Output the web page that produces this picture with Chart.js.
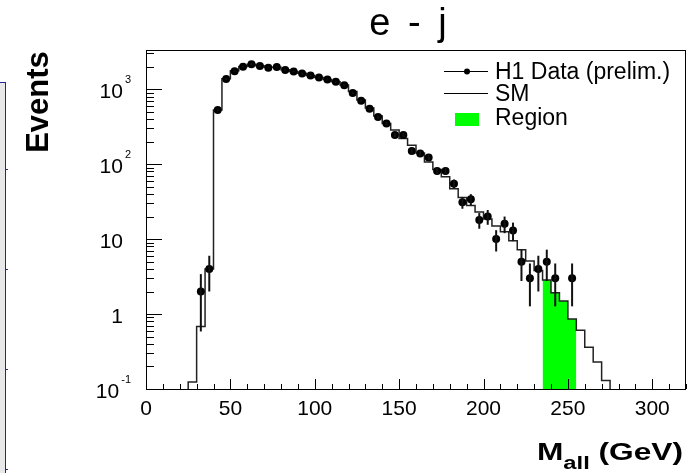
<html><head>
<meta charset="UTF-8">
<title>e - j : M_all</title>
<script src="https://cdn.jsdelivr.net/npm/chart.js"></script>
<style>
    body {
        margin: 0;
        background: #fff;
    }
    #wrap {
        position: relative;
        width: 698px;
        height: 473px;
        overflow: hidden;
    }
    /* edge of the neighbouring pad that is cut off on the left */
    #side {
        position: absolute;
        left: 0;
        top: 82px;
        width: 5px;
        height: 400px;
        background: #e8e8e8;
        border-top: 1px solid #24249c;
        border-right: 1px solid #24249c;
    }
    .stick {
        position: absolute;
        left: 5px;
        width: 3px;
        height: 1px;
        background: #24249c;
    }
    canvas {
        position: absolute;
        left: 0;
        top: 0;
    }
</style>
</head>
<body>
<div id="wrap">
    <div id="side"></div>
    <div class="stick" style="top:169px"></div>
    <div class="stick" style="top:269px"></div>
    <div class="stick" style="top:369px"></div>
    <div class="stick" style="top:469px"></div>
    <canvas id="mass" width="698" height="473"></canvas>
</div>

<script>
    // H1 data, bin centres (GeV) and number of events
    const dataMass = [32.5, 37.5, 42.5, 47.5, 52.5, 57.5, 62.5, 67.5, 72.5, 77.5,
        82.5, 87.5, 92.5, 97.5, 102.5, 107.5, 112.5, 117.5, 122.5, 127.5,
        132.5, 137.5, 142.5, 147.5, 152.5, 157.5, 162.5, 167.5, 172.5, 177.5,
        182.5, 187.5, 192.5, 197.5, 202.5, 207.5, 212.5, 217.5, 222.5, 227.5,
        232.5, 237.5, 242.5, 252.5];
    const dataEvents = [2, 4, 530, 1370, 1740, 1990, 2160, 2050, 1930, 1980,
        1800, 1720, 1620, 1520, 1430, 1345, 1260, 1130, 890, 700,
        550, 425, 350, 245, 245, 150, 139, 123, 81, 81,
        55, 31, 34, 18, 20, 10, 16, 13, 5, 3,
        4, 5, 3, 3];

    // SM expectation, histogram with 5 GeV bins (low edges)
    const binWidth = 5;
    const smLowEdges = [25, 30, 35, 40, 45, 50, 55, 60, 65, 70,
        75, 80, 85, 90, 95, 100, 105, 110, 115, 120,
        125, 130, 135, 140, 145, 150, 155, 160, 165, 170,
        175, 180, 185, 190, 195, 200, 205, 210, 215, 220,
        225, 230, 235, 240, 245, 250, 255, 260, 265, 270];
    const smEvents = [0.124, 0.68, 4.0, 530, 1380, 1760, 2010, 2150, 2060, 1960,
        1960, 1820, 1730, 1630, 1530, 1440, 1350, 1260, 1140, 930,
        720, 560, 440, 350, 285, 220, 179, 141, 107, 85,
        68, 47, 36, 28, 23, 18.5, 15, 12.5, 9.5, 7.2,
        5.1, 3.8, 2.84, 1.92, 1.49, 0.86, 0.61, 0.36, 0.23, 0.13];

    // search region
    const regionRange = [235, 255];

    // axes
    const X_MIN = 0, X_MAX = 320;
    const Y_MIN = 0.1, Y_MAX = 3340;
    const xTickLabels = ['0', '50', '100', '150', '200', '250', '300'];
    const xTickValues = [0, 50, 100, 150, 200, 250, 300];
    const yTickValues = [0.1, 1, 10, 100, 1000];
    const yTickBase = ['10', '1', '10', '10', '10'];
    const yTickExp = ['-1', '', '', '2', '3'];

    const FONT = "'Liberation Sans', Arial, Helvetica, sans-serif";

    // histogram as step points: value holds from the low edge to the next point
    const smSteps = [{x: smLowEdges[0], y: Y_MIN}];
    smLowEdges.forEach((e, i) => smSteps.push({x: e, y: smEvents[i]}));
    smSteps.push({x: smLowEdges[smLowEdges.length - 1] + binWidth, y: Y_MIN});

    const regionSteps = [];
    smLowEdges.forEach((e, i) => {
        if (e >= regionRange[0] && e < regionRange[1]) regionSteps.push({x: e, y: smEvents[i]});
    });
    regionSteps.push({x: regionRange[1], y: Y_MIN});

    const dataPoints = dataMass.map((m, i) => ({x: m, y: dataEvents[i]}));

    function line(ctx, x1, y1, x2, y2) {
        ctx.beginPath();
        ctx.moveTo(x1, y1);
        ctx.lineTo(x2, y2);
        ctx.stroke();
    }

    // sqrt(N) error bars on the data
    const errorBars = {
        id: 'errorBars',
        afterDatasetsDraw(chart) {
            const {ctx, scales: {x, y}} = chart;
            ctx.save();
            ctx.strokeStyle = '#111';
            ctx.lineWidth = 2;
            dataPoints.forEach(p => {
                const s = Math.sqrt(p.y);
                const px = x.getPixelForValue(p.x);
                line(ctx, px, y.getPixelForValue(p.y + s), px, y.getPixelForValue(Math.max(p.y - s, Y_MIN)));
            });
            ctx.restore();
        }
    };

    // ROOT style frame, inward ticks, labels, titles, legend
    const rootFrame = {
        id: 'rootFrame',
        afterDraw(chart) {
            const {ctx, chartArea: a, scales: {x, y}} = chart;
            ctx.save();
            ctx.strokeStyle = '#000';
            ctx.lineWidth = 1;
            ctx.strokeRect(a.left + 0.5, a.top + 0.5, a.right - a.left - 1, a.bottom - a.top);

            // y ticks
            for (let e = -1; e <= 3; e++) {
                for (let m = 1; m <= 9; m++) {
                    const v = m * Math.pow(10, e);
                    if (v > Y_MAX) continue;
                    const py = Math.round(y.getPixelForValue(v)) + 0.5;
                    line(ctx, a.left, py, a.left + (m === 1 ? 16 : 8), py);
                }
            }
            // x ticks
            for (let v = X_MIN; v <= X_MAX; v += 10) {
                const px = Math.round(x.getPixelForValue(v)) + 0.5;
                line(ctx, px, a.bottom, px, a.bottom - (v % 50 === 0 ? 10 : 5));
            }

            ctx.fillStyle = '#000';
            // x tick labels
            ctx.font = '21px ' + FONT;
            ctx.textAlign = 'center';
            ctx.textBaseline = 'alphabetic';
            xTickValues.forEach((v, i) => ctx.fillText(xTickLabels[i], x.getPixelForValue(v), a.bottom + 26));

            // y tick labels with exponents
            yTickValues.forEach((v, i) => {
                const py = y.getPixelForValue(v);
                ctx.font = '21px ' + FONT;
                const wb = ctx.measureText(yTickBase[i]).width;
                ctx.font = '11px ' + FONT;
                const we = yTickExp[i] ? ctx.measureText(yTickExp[i]).width + 2 : 0;
                const right = yTickExp[i] ? a.left - 15 : a.left - 23;
                ctx.textAlign = 'left';
                ctx.font = '21px ' + FONT;
                ctx.fillText(yTickBase[i], right - we - wb, py + 9);
                if (yTickExp[i]) {
                    ctx.font = '11px ' + FONT;
                    ctx.fillText(yTickExp[i], right - we + 2, py - 6);
                }
            });

            // title
            ctx.save();
            ctx.textAlign = 'center';
            ctx.font = '38px ' + FONT;
            ctx.wordSpacing = '7px';
            ctx.fillText('e - j', 408, 35);
            ctx.restore();

            // y axis title
            ctx.save();
            ctx.translate(48, 102);
            ctx.rotate(-Math.PI / 2);
            ctx.textAlign = 'center';
            ctx.font = 'bold 31px ' + FONT;
            ctx.fillText('Events', 0, 0);
            ctx.restore();

            // x axis title  M_all (GeV), stretched like the original
            ctx.save();
            ctx.textAlign = 'left';
            ctx.font = 'bold 24px ' + FONT;
            const wM = ctx.measureText('M').width;
            const wGeV = ctx.measureText(' (GeV)').width;
            ctx.font = 'bold 18px ' + FONT;
            const wAll = ctx.measureText('all').width;
            const sx = 146 / (wM + wAll + wGeV);
            ctx.translate(537, 0);
            ctx.scale(sx, 1);
            ctx.font = 'bold 24px ' + FONT;
            ctx.fillText('M', 0, 460);
            ctx.font = 'bold 18px ' + FONT;
            ctx.fillText('all', wM, 469);
            ctx.font = 'bold 24px ' + FONT;
            ctx.fillText(' (GeV)', wM + wAll, 460);
            ctx.restore();

            // legend
            ctx.font = '23px ' + FONT;
            ctx.textAlign = 'left';
            ctx.fillText('H1 Data (prelim.)', 495, 79);
            ctx.fillText('SM', 495, 101);
            ctx.fillText('Region', 495, 125);
            ctx.strokeStyle = '#000';
            ctx.lineWidth = 1;
            line(ctx, 444, 71.5, 488, 71.5);
            line(ctx, 444, 93.5, 488, 93.5);
            ctx.beginPath();
            ctx.arc(467, 71.5, 3, 0, Math.PI * 2);
            ctx.fill();
            ctx.fillStyle = '#00ff00';
            ctx.fillRect(455, 113, 24, 13);
            ctx.restore();
        }
    };

    const chart = new Chart(document.getElementById('mass'), {
        type: 'line',
        data: {
            datasets: [
                {
                    label: 'H1 Data (prelim.)',
                    data: dataPoints,
                    showLine: false,
                    pointRadius: 4,
                    pointBackgroundColor: '#000',
                    pointBorderColor: '#000',
                    pointBorderWidth: 0
                },
                {
                    label: 'SM',
                    data: smSteps,
                    stepped: true,
                    borderColor: '#222',
                    borderWidth: 1.5,
                    pointRadius: 0,
                    fill: false
                },
                {
                    label: 'Region',
                    data: regionSteps,
                    stepped: true,
                    borderWidth: 0,
                    borderColor: 'rgba(0,0,0,0)',
                    backgroundColor: '#00ff00',
                    pointRadius: 0,
                    fill: 'start'
                }
            ]
        },
        options: {
            responsive: false,
            animation: false,
            layout: {
                padding: {left: 146, right: 12, top: 50, bottom: 84}
            },
            plugins: {
                legend: {display: false},
                tooltip: {enabled: false}
            },
            scales: {
                x: {type: 'linear', min: X_MIN, max: X_MAX, display: false},
                y: {type: 'logarithmic', min: Y_MIN, max: Y_MAX, display: false}
            }
        },
        plugins: [errorBars, rootFrame]
    });
</script>
</body>
</html>
